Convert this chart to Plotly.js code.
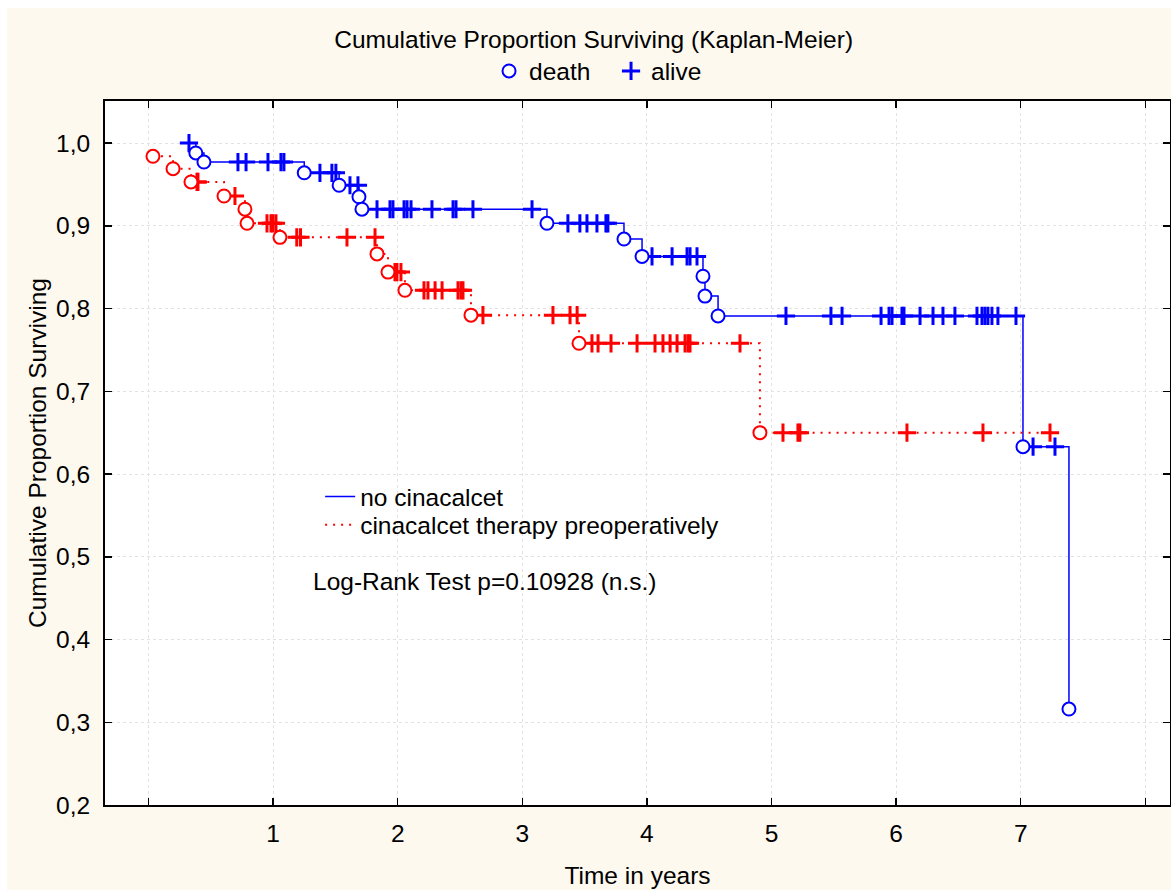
<!DOCTYPE html>
<html>
<head>
<meta charset="utf-8">
<script src="https://cdn.plot.ly/plotly-3.0.1.min.js"></script>
<style>
html,body{margin:0;padding:0;background:#ffffff;}
#chart{position:absolute;left:7px;top:8px;width:1164px;height:882px;}
</style>
</head>
<body>
<div id="chart"></div>
<script>
// ---- Data ----
// no cinacalcet: death (event) times and survival after each drop
const blueDeathT = [0.38, 0.445, 1.25, 1.53, 1.689, 1.713, 3.198, 3.816, 3.961, 4.45, 4.466, 4.571, 7.018, 7.387];
const blueDeathS = [0.988, 0.977, 0.964, 0.949, 0.935, 0.920, 0.903, 0.884, 0.863, 0.839, 0.815, 0.791, 0.633, 0.316];
// no cinacalcet: censored (alive) times
const blueCensT = [0.325, 0.718, 0.783, 0.959, 1.063, 1.087, 1.376, 1.472, 1.504, 1.617, 1.681,
  1.834, 1.938, 1.962, 2.051, 2.075, 2.107, 2.275, 2.444, 2.468, 2.604, 3.078,
  3.366, 3.462, 3.519, 3.599, 3.671, 3.687, 4.041, 4.202, 4.322, 4.346, 4.402,
  5.116, 5.477, 5.566, 5.879, 5.943, 5.967, 6.047, 6.063, 6.192, 6.296, 6.376, 6.472,
  6.649, 6.689, 6.713, 6.737, 6.769, 6.817, 6.962, 7.099, 7.275];

// cinacalcet therapy preoperatively
const redDeathT = [0.036, 0.197, 0.341, 0.606, 0.774, 0.791, 1.055, 1.834, 1.922, 2.058, 2.588, 3.455, 4.907];
const redDeathS = [0.984, 0.969, 0.953, 0.936, 0.920, 0.903, 0.886, 0.866, 0.844, 0.822, 0.792, 0.758, 0.650];
const redCensT = [0.389, 0.397, 0.694, 0.951, 0.983, 0.999, 1.023, 1.19, 1.22, 1.593, 1.818,
  1.978, 1.994, 2.026, 2.211, 2.243, 2.300, 2.356, 2.484, 2.508, 2.524,
  2.684, 3.246, 3.383, 3.44, 3.559, 3.608, 3.712, 3.921, 4.065, 4.129, 4.186, 4.242, 4.306, 4.33, 4.346, 4.747,
  5.092, 5.212, 5.228, 6.087, 6.697, 7.235];

const seriesNames = ['no cinacalcet', 'cinacalcet therapy preoperatively'];
const markerNames = ['death', 'alive'];
const xTickVals = [0, 1, 2, 3, 4, 5, 6, 7, 8];
const xTickText = ['', '1', '2', '3', '4', '5', '6', '7', ''];
const yTickVals = [0.2, 0.3, 0.4, 0.5, 0.6, 0.7, 0.8, 0.9, 1.0];

// survival level (step function) at time t
function levelAt(t, dT, dS) {
  let s = 1.0;
  for (let i = 0; i < dT.length; i++) if (dT[i] <= t) s = dS[i];
  return s;
}
function stepPoints(dT, dS, cT) {
  const pts = [];
  dT.forEach((t, i) => pts.push([t, dS[i]]));
  cT.forEach(t => pts.push([t, levelAt(t, dT, dS)]));
  pts.sort((a, b) => a[0] - b[0]);
  return {x: pts.map(p => p[0]), y: pts.map(p => p[1])};
}

const BLUE = '#0000ff', RED = '#ff0000';
const FONT = 'Liberation Sans, Arial, sans-serif';
const FS = 24.5;

const blueStep = stepPoints(blueDeathT, blueDeathS, blueCensT);
const redStep = stepPoints(redDeathT, redDeathS, redCensT);

const crossMarker = c => ({symbol: 'cross-thin', size: 13, color: c, line: {color: c, width: 3}});
const circleMarker = c => ({symbol: 'circle', size: 13, color: '#ffffff', line: {color: c, width: 2}});

const traces = [
  {x: blueStep.x, y: blueStep.y, mode: 'lines', line: {shape: 'hv', color: BLUE, width: 1.5},
   name: seriesNames[0], legend: 'legend', hoverinfo: 'skip'},
  {x: redStep.x, y: redStep.y, mode: 'lines', line: {shape: 'hv', color: RED, width: 2, dash: '2px,6px'},
   name: seriesNames[1], legend: 'legend3', hoverinfo: 'skip'},
  {x: redCensT, y: redCensT.map(t => levelAt(t, redDeathT, redDeathS)), mode: 'markers',
   marker: crossMarker(RED), showlegend: false},
  {x: redDeathT, y: redDeathS, mode: 'markers', marker: circleMarker(RED), showlegend: false},
  {x: blueCensT, y: blueCensT.map(t => levelAt(t, blueDeathT, blueDeathS)), mode: 'markers',
   marker: crossMarker(BLUE), showlegend: false},
  {x: blueDeathT, y: blueDeathS, mode: 'markers', marker: circleMarker(BLUE), showlegend: false},
  // marker-type legend (top)
  {x: [null], y: [null], mode: 'markers', marker: circleMarker(BLUE), name: markerNames[0], legend: 'legend2'},
  {x: [null], y: [null], mode: 'markers', marker: crossMarker(BLUE), name: markerNames[1], legend: 'legend2'}
];

const axisCommon = {
  showline: true, linecolor: '#000000', linewidth: 2, mirror: 'ticks',
  ticks: 'inside', ticklen: 7, tickwidth: 1.5, tickcolor: '#000000',
  showgrid: true, gridcolor: '#e2e2e2', gridwidth: 1, griddash: 'dot',
  zeroline: false, tickfont: {family: FONT, size: FS, color: '#000000'}
};

const legendFont = {family: FONT, size: FS, color: '#000000'};

const layout = {
  width: 1164, height: 882,
  margin: {l: 98, r: 1, t: 93, b: 85},
  paper_bgcolor: '#fdf9ef', plot_bgcolor: '#ffffff',
  separators: ', ',
  font: {family: FONT, size: FS, color: '#000000'},
  title: {text: 'Cumulative Proportion Surviving (Kaplan-Meier)', x: 0.504, xref: 'container',
          y: 0.9649, yref: 'container', yanchor: 'middle', xanchor: 'center',
          font: {family: FONT, size: FS, color: '#000000'}},
  xaxis: Object.assign({}, axisCommon, {
    range: [-0.349, 8.198], tickmode: 'array', tickvals: xTickVals, ticktext: xTickText,
    ticklabelstandoff: 6,
    title: {text: 'Time in years', standoff: 20, font: {family: FONT, size: FS, color: '#000000'}}
  }),
  yaxis: Object.assign({}, axisCommon, {
    range: [0.2, 1.0508], tickmode: 'array', tickvals: yTickVals, tickformat: '.1f',
    ticklabelstandoff: 8,
    title: {text: 'Cumulative Proportion Surviving', standoff: 2, font: {family: FONT, size: FS, color: '#000000'}}
  }),
  legend: {x: 0.202, y: 0.438, xanchor: 'left', yanchor: 'middle', bgcolor: 'rgba(0,0,0,0)',
           font: legendFont},
  legend3: {x: 0.202, y: 0.398, xanchor: 'left', yanchor: 'middle', bgcolor: 'rgba(0,0,0,0)',
           font: legendFont},
  legend2: {orientation: 'h', x: 0.3606, y: 1.0426, xanchor: 'left', yanchor: 'middle',
            bgcolor: 'rgba(0,0,0,0)', entrywidth: 77, entrywidthmode: 'pixels',
            font: legendFont},
  annotations: [{
    text: 'Log-Rank Test p=0.10928 (n.s.)', xref: 'paper', yref: 'paper',
    x: 0.1934, y: 0.318, xanchor: 'left', yanchor: 'middle', showarrow: false,
    font: {family: FONT, size: FS, color: '#000000'}
  }],
  hovermode: false
};

Plotly.newPlot('chart', traces, layout, {displayModeBar: false, staticPlot: true});
</script>
</body>
</html>
